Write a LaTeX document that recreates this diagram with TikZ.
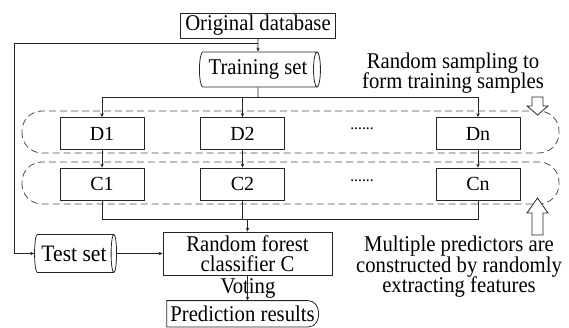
\documentclass[tikz,border=0pt]{standalone}
\usepackage{fontspec}
\setmainfont[FakeStretch=0.92]{Liberation Serif}
\newfontfamily\plainserif{Liberation Serif}
\usetikzlibrary{shapes.geometric,arrows.meta}
\lineskiplimit=-100pt\relax
\begin{document}
\begin{tikzpicture}[x=1pt,y=-1pt,
  lbl/.style={font=\fontsize{22.5}{20.5}\selectfont},
  box/.style={draw=black!85, line width=0.8pt, rectangle, inner sep=0pt, lbl},
  sbox/.style={box, font=\plainserif\fontsize{20}{20}\selectfont},
  cyl/.style={draw=black!85, line width=0.8pt, cylinder, shape aspect=0.35, inner sep=0pt, lbl},
  line/.style={draw=black!85, line width=0.8pt},
  arr/.style={line, -{Stealth[length=4pt,width=3.5pt]}},
  band/.style={draw=black!70, dash pattern=on 7pt off 4pt, rounded corners=20pt, line width=0.8pt},
  hollow/.style={draw=black!85, fill=white, line width=0.8pt},
  dots/.style={font=\fontsize{17}{17}\selectfont}]
\useasboundingbox (0,0) rectangle (569,328);
% bands
\draw[band] (22,111) rectangle (559,153);
\draw[band] (22,162) rectangle (559,204);
% nodes
\node[box, minimum width=155, minimum height=25] (od) at (258,25.5) {Original database};
\node[cyl, minimum height=121, minimum width=35] (ts) at (258,69.5) {Training set};
\node[sbox, minimum width=84, minimum height=32] (d1) at (102,133.5) {D1};
\node[sbox, minimum width=84, minimum height=32] (d2) at (242.5,133.5) {D2};
\node[sbox, minimum width=84, minimum height=32] (dn) at (478,133.5) {Dn};
\node[sbox, minimum width=84, minimum height=32] (c1) at (102,184) {C1};
\node[sbox, minimum width=84, minimum height=32] (c2) at (242.5,184) {C2};
\node[sbox, minimum width=84, minimum height=32] (cn) at (478,184) {Cn};
\node[dots] (dd) at (362,129) {......};
\node[dots] (cd) at (362,181) {......};
\node[box, minimum width=169, minimum height=43, align=center] (rf) at (247.5,253.5) {Random forest\\classifier C};
\node[cyl, minimum height=82, minimum width=38, font=\fontsize{23.5}{23.5}\selectfont] (tes) at (74,253.5) {Test set};
\node[lbl] (vt) at (248,288.3) {Voting};
\node[lbl, minimum width=151, minimum height=26, inner sep=0pt] (pr) at (242.5,313.8) {Prediction results};
\draw[line] (pr.south west) -- (pr.north west) -- ([xshift=-10pt]pr.north east)
  .. controls ([xshift=4pt]pr.north east) and ([xshift=4pt]pr.south east) .. ([xshift=-10pt]pr.south east) -- cycle;
\node[lbl, align=center, anchor=north, inner sep=0pt] (rs) at (453,52.4) {Random sampling to\\form training samples};
\node[lbl, align=center, anchor=north, inner sep=0pt] (mp) at (459,236.1) {Multiple predictors are\\constructed by randomly\\extracting features};
% connectors
\coordinate (tl) at (14,43);
\coordinate (split) at (258,97);
\coordinate (merge) at (248,219);
\draw[arr] (od.south) -- (ts.north);
\draw[line] (tl) -- (od.south |- tl);
\draw[arr] (tl) |- (tes.west);
\draw[line] (ts.south) -- (split);
\draw[line] (d1.north |- split) -- (dn.north |- split);
\draw[arr] (d1.north |- split) -- (d1.north);
\draw[arr] (d2.north |- split) -- (d2.north);
\draw[arr] (dn.north |- split) -- (dn.north);
\draw[arr] (d1.south) -- (c1.north);
\draw[arr] (d2.south) -- (c2.north);
\draw[arr] (dn.south) -- (cn.north);
\draw[line] (c1.south) -- (c1.south |- merge) -- (cn.south |- merge) -- (cn.south);
\draw[line] (c2.south) -- (c2.south |- merge);
\draw[arr] (rf.north |- merge) -- (rf.north);
\draw[arr] (tes.east) -- (tes.east -| rf.west);
\draw[arr] (rf.south) -- (rf.south |- pr.north);
% hollow arrows
\draw[hollow] (532,97) -- (543,97) -- (543,106) -- (548,106) -- (537.5,115) -- (527,106) -- (532,106) -- cycle;
\draw[hollow] (532,235) -- (543,235) -- (543,213) -- (548,213) -- (537.5,198) -- (527,213) -- (532,213) -- cycle;
\end{tikzpicture}
\end{document}
